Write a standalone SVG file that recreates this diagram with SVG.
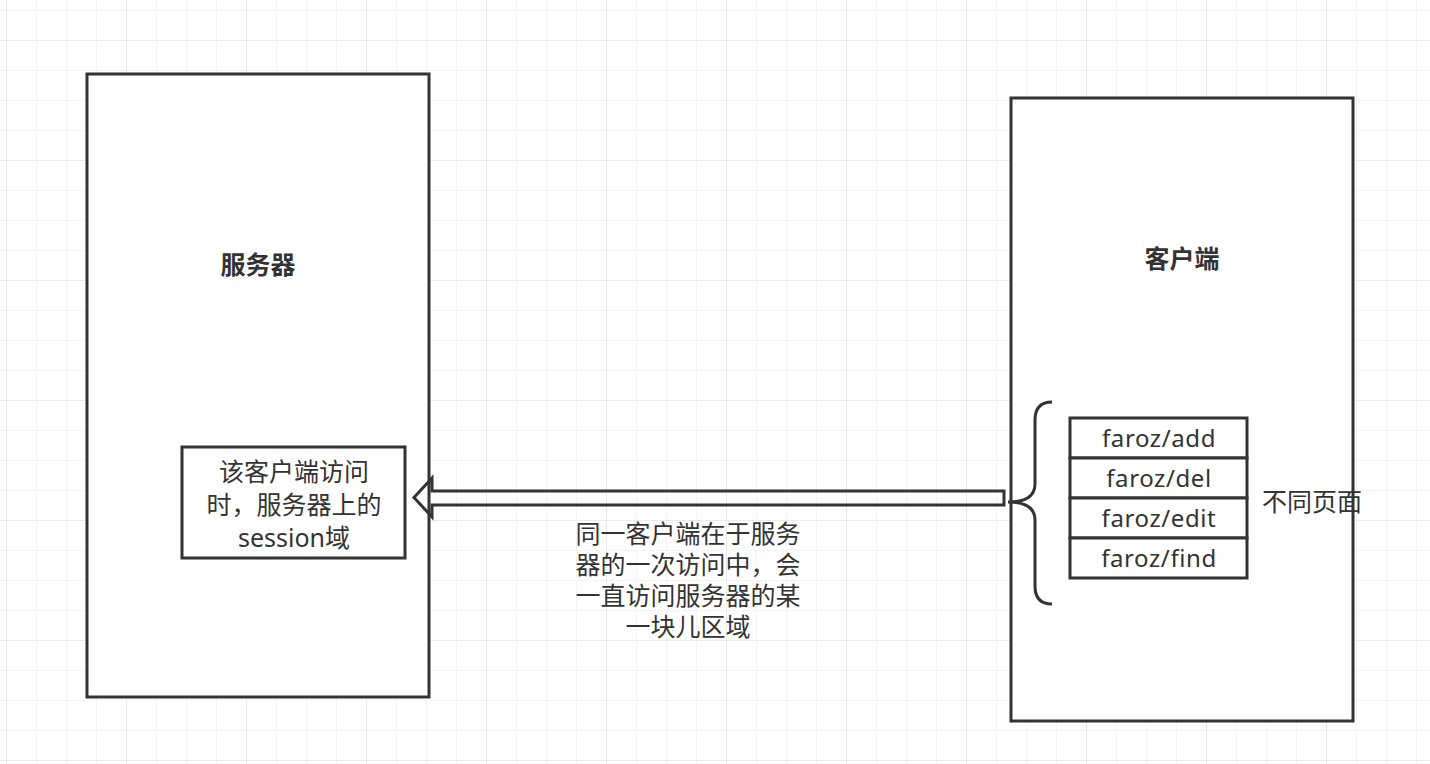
<svg xmlns="http://www.w3.org/2000/svg" width="1430" height="764" viewBox="0 0 1430 764">
  <defs>
    <pattern id="minor" x="6" y="10" width="30" height="30" patternUnits="userSpaceOnUse">
      <path d="M0,0 H30 M0,0 V30" fill="none" stroke="#f1f1f1" stroke-width="1.5"/>
    </pattern>
    <pattern id="major" x="6" y="40" width="120" height="120" patternUnits="userSpaceOnUse">
      <path d="M0,0 H120 M0,0 V120" fill="none" stroke="#e9e9e9" stroke-width="1.5"/>
    </pattern>
    <style>
      .box { fill: #ffffff; stroke: #333333; stroke-width: 3; }
      .line { fill: none; stroke: #333333; stroke-width: 3; stroke-linejoin: miter; }
      .t { font-family: "Noto Sans", "Noto Sans CJK SC", sans-serif; font-size: 25px; fill: #333333; text-anchor: middle; }
      .title { font-family: "Noto Sans CJK SC", sans-serif; font-size: 25px; font-weight: bold; fill: #333333; text-anchor: middle; }
      .lat { font-family: "Noto Sans", sans-serif; font-size: 24px; fill: #333333; text-anchor: middle; letter-spacing: 0.6px; }
    </style>
  </defs>
  <rect width="1430" height="764" fill="#ffffff"/>
  <rect width="1430" height="764" fill="url(#minor)"/>
  <rect width="1430" height="764" fill="url(#major)"/>

  <g id="server">
    <rect class="box" x="87" y="74" width="342" height="623"/>
    <text class="title" x="258" y="274">服务器</text>
  </g>

  <g id="session">
    <rect class="box" x="182" y="447" width="223" height="111"/>
    <text class="t" x="294" y="481">该客户端访问</text>
    <text class="t" x="294" y="514">时，服务器上的</text>
    <text class="t" x="294" y="547">session域</text>
  </g>

  <g id="client">
    <rect class="box" x="1011" y="98" width="342" height="623"/>
    <text class="title" x="1182" y="268">客户端</text>
  </g>

  <g id="pages">
    <rect class="box" x="1070" y="418" width="177" height="40"/>
    <rect class="box" x="1070" y="458" width="177" height="40"/>
    <rect class="box" x="1070" y="498" width="177" height="40"/>
    <rect class="box" x="1070" y="538" width="177" height="40"/>
    <text class="lat" x="1159" y="447">faroz/add</text>
    <text class="lat" x="1159" y="487">faroz/del</text>
    <text class="lat" x="1159" y="527">faroz/edit</text>
    <text class="lat" x="1159" y="567">faroz/find</text>
  </g>

  <g id="pages-label">
    <text class="t" x="1262" y="511" style="text-anchor: start">不同页面</text>
  </g>

  <g id="connectors">
    <path class="line" d="M1052,402 Q1035,402 1035,420 L1035,484 Q1035,502 1008,502 Q1035,502 1035,520 L1035,586 Q1035,604 1052,604"/>
    <path class="line" d="M1004,491 L432,491 L432,478 L414,497.5 L432,517 L432,505 L1004,505 Z"/>
  </g>

  <g id="arrow-label">
    <text class="t" x="688" y="543">同一客户端在于服务</text>
    <text class="t" x="688" y="574">器的一次访问中，会</text>
    <text class="t" x="688" y="605">一直访问服务器的某</text>
    <text class="t" x="688" y="636">一块儿区域</text>
  </g>
</svg>
